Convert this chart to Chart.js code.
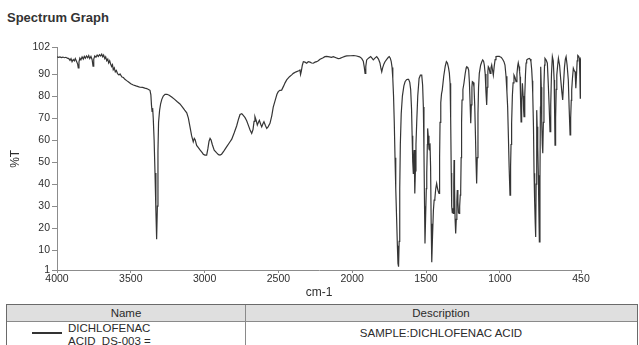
<!DOCTYPE html>
<html>
<head>
<meta charset="utf-8">
<script src="https://cdn.jsdelivr.net/npm/chart.js@4.4.1/dist/chart.umd.min.js"></script>
<style>
  html, body { margin: 0; padding: 0; background: #fff; width: 639px; height: 345px; overflow: hidden;
    font-family: "Liberation Sans", Arial, sans-serif; color: #2b2b2b; }
  #title { position: absolute; left: 7px; top: 10px; font-size: 13px; font-weight: bold; line-height: 16px; color: #333; }
  #wrap { position: absolute; left: 0; top: 0; width: 639px; height: 300px; }
  .abs { position: absolute; }
  .frame { left: 6px; top: 304px; width: 632px; height: 60px; border: 1px solid #6a6a6a; box-sizing: border-box; }
  .head { left: 7px; top: 305px; width: 630px; height: 16px; background: #dfdfdf; }
  .hline { left: 7px; top: 321px; width: 630px; height: 1px; background: #8a8a8a; }
  .vline { left: 245px; top: 305px; width: 1px; height: 45px; background: #8a8a8a; }
  .cell { font-size: 11.5px; text-align: center; white-space: nowrap; }
  .swatch { left: 32px; top: 332px; width: 30px; height: 2px; background: #333; }
</style>
</head>
<body>
<div id="title">Spectrum Graph</div>
<div id="wrap"><canvas id="c" width="639" height="300"></canvas></div>

<div class="abs frame"></div>
<div class="abs head"></div>
<div class="abs hline"></div>
<div class="abs vline"></div>
<div class="abs cell" style="left:7px;top:305px;width:238px;line-height:16px;">Name</div>
<div class="abs cell" style="left:246px;top:305px;width:390px;line-height:16px;">Description</div>
<div class="abs swatch"></div>
<div class="abs cell" style="left:68px;top:322px;text-align:left;line-height:13px;">DICHLOFENAC<br>ACID_DS-003 =</div>
<div class="abs cell" style="left:246px;top:326px;width:390px;line-height:14px;">SAMPLE:DICHLOFENAC ACID</div>

<script>
// Wavenumber axis (cm-1), high to low
const wavenumbers = [
  4000, 3990, 3980, 3970, 3960, 3950, 3940, 3930, 3920, 3912, 3905, 3898, 3890, 3882, 3876, 3868,
  3860, 3856, 3851, 3845, 3838, 3830, 3822, 3815, 3808, 3800, 3792, 3785, 3778, 3770, 3762, 3756,
  3751, 3744, 3736, 3728, 3720, 3712, 3704, 3697, 3690, 3684, 3676, 3670, 3663, 3656, 3650, 3643,
  3636, 3630, 3624, 3619, 3612, 3605, 3598, 3590, 3580, 3573, 3560, 3550, 3540, 3528, 3515, 3500,
  3483, 3465, 3450, 3438, 3420, 3405, 3392, 3380, 3370, 3364, 3360, 3356, 3352, 3348, 3342, 3336,
  3330, 3325, 3320, 3316, 3312, 3305, 3298, 3290, 3280, 3268, 3255, 3240, 3223, 3205, 3185, 3167,
  3150, 3135, 3121, 3110, 3099, 3088, 3077, 3070, 3064, 3054, 3045, 3030, 3015, 3009, 2998, 2986,
  2978, 2970, 2963, 2956, 2948, 2935, 2918, 2906, 2896, 2885, 2870, 2850, 2830, 2816, 2800, 2783,
  2770, 2760, 2748, 2738, 2726, 2715, 2704, 2692, 2681, 2672, 2665, 2659, 2650, 2643, 2636, 2629,
  2620, 2613, 2605, 2598, 2588, 2579, 2570, 2557, 2545, 2535, 2520, 2510, 2501, 2490, 2478, 2465,
  2455, 2444, 2425, 2410, 2399, 2380, 2362, 2354, 2350, 2345, 2338, 2331, 2320, 2308, 2298, 2286,
  2275, 2264, 2252, 2241, 2230, 2218, 2200, 2185, 2173, 2155, 2140, 2128, 2110, 2095, 2083, 2065,
  2050, 2037, 2010, 1990, 1970, 1950, 1936, 1925, 1918, 1913, 1908, 1902, 1890, 1875, 1866, 1857,
  1846, 1834, 1822, 1812, 1805, 1800, 1794, 1785, 1778, 1765, 1755, 1749, 1742, 1736, 1730, 1725,
  1720, 1715, 1710, 1705, 1699, 1694, 1690, 1686, 1682, 1678, 1674, 1668, 1660, 1650, 1642, 1632,
  1625, 1618, 1610, 1604, 1598, 1594, 1590, 1586, 1583, 1580, 1577, 1575, 1572, 1568, 1563, 1556,
  1547, 1538, 1529, 1523, 1518, 1514, 1510, 1507, 1503, 1498, 1495, 1491, 1489, 1485, 1480, 1477,
  1473, 1469, 1465, 1461, 1456, 1450, 1445, 1440, 1434, 1428, 1422, 1416, 1412, 1408, 1405, 1400,
  1395, 1390, 1380, 1370, 1362, 1355, 1348, 1342, 1337, 1333, 1329, 1326, 1322, 1318, 1315, 1312,
  1310, 1307, 1303, 1299, 1295, 1291, 1288, 1284, 1280, 1276, 1272, 1268, 1265, 1262, 1259, 1256,
  1250, 1243, 1235, 1228, 1224, 1217, 1211, 1206, 1201, 1197, 1193, 1189, 1186, 1180, 1175, 1170,
  1165, 1161, 1157, 1153, 1148, 1144, 1139, 1130, 1122, 1116, 1110, 1105, 1099, 1094, 1089, 1085,
  1081, 1078, 1072, 1066, 1060, 1055, 1050, 1044, 1038, 1032, 1026, 1015, 1005, 999, 990, 980,
  972, 965, 958, 952, 947, 942, 937, 931, 927, 924, 920, 915, 910, 904, 897, 890,
  884, 879, 875, 870, 866, 863, 860, 856, 852, 847, 842, 839, 836, 831, 826, 822,
  818, 810, 800, 795, 789, 784, 780, 777, 772, 768, 764, 760, 757, 754, 750, 747,
  743, 739, 735, 732, 728, 725, 723, 719, 716, 712, 709, 705, 701, 697, 694, 686,
  678, 672, 666, 660, 655, 650, 644, 638, 632, 629, 626, 622, 618, 614, 608, 603,
  595, 587, 580, 574, 568, 562, 556, 551, 544, 536, 530, 524, 520, 516, 513, 508,
  502, 496, 490, 486, 484, 480, 476, 472, 466, 461, 458, 455, 452, 450
];

// Transmittance (%T) at each wavenumber above
const transmittance = [
  97.8, 97.6, 97.8, 97.5, 97.7, 97.4, 97.6, 97.2, 97.0, 96.2, 97.0, 95.6, 96.6, 96.0, 97.0, 95.8,
  94.5, 92.8, 95.5, 97.2, 96.4, 97.8, 96.8, 98.0, 97.2, 98.2, 97.4, 98.4, 97.0, 98.0, 96.5, 93.6,
  96.8, 98.2, 97.6, 98.6, 98.0, 98.8, 98.2, 99.0, 97.8, 98.6, 97.0, 97.8, 96.0, 96.8, 95.0, 96.0,
  94.4, 93.4, 94.2, 92.0, 92.8, 91.0, 91.6, 90.2, 89.6, 90.0, 88.6, 88.4, 87.6, 87.0, 86.4, 85.6,
  85.0, 84.6, 84.3, 84.0, 83.9, 83.6, 83.4, 83.0, 82.6, 80.5, 76.0, 73.0, 74.5, 70.0, 60.0, 45.0,
  28.0, 15.0, 30.0, 55.0, 68.0, 73.5, 76.5, 78.5, 80.0, 80.8, 80.8, 80.4, 79.6, 78.6, 77.4, 76.4,
  75.0, 73.6, 72.4, 70.0, 66.0, 62.0, 59.2, 60.8, 60.2, 57.6, 56.8, 55.4, 54.2, 53.6, 53.2, 53.2,
  56.0, 59.5, 60.8, 60.0, 58.0, 55.4, 54.2, 53.4, 53.2, 53.6, 55.0, 57.0, 59.0, 60.4, 63.2, 66.4,
  69.6, 71.6, 72.0, 71.2, 70.2, 68.8, 66.8, 64.6, 63.0, 64.8, 68.5, 70.6, 68.8, 66.8, 68.0, 69.0,
  67.2, 66.0, 67.4, 68.3, 66.6, 65.3, 66.0, 67.6, 71.0, 75.0, 78.5, 80.8, 82.0, 82.6, 82.7, 84.5,
  86.0, 87.3, 88.8, 89.6, 90.3, 91.0, 91.5, 91.8, 89.8, 91.2, 94.0, 95.6, 95.4, 94.9, 95.6, 95.4,
  95.0, 94.9, 95.4, 95.6, 96.0, 96.7, 97.3, 97.9, 98.0, 97.8, 97.6, 97.9, 97.4, 97.0, 97.1, 97.6,
  98.0, 98.2, 98.3, 98.4, 98.2, 97.8, 97.1, 95.8, 93.0, 90.3, 93.5, 96.4, 97.2, 97.9, 97.2, 96.4,
  97.2, 97.9, 96.8, 95.0, 92.4, 91.0, 92.8, 94.6, 95.6, 96.8, 97.6, 97.9, 97.2, 95.8, 93.0, 88.0,
  80.0, 68.0, 52.0, 38.0, 24.0, 12.0, 4.0, 2.5, 14.0, 38.0, 58.0, 72.0, 80.0, 84.6, 86.5, 87.4,
  87.6, 87.6, 86.2, 83.0, 74.0, 62.0, 50.0, 44.9, 52.0, 55.5, 46.0, 35.8, 46.0, 58.0, 68.0, 80.0,
  88.0, 89.5, 89.5, 85.0, 75.0, 55.0, 30.0, 13.0, 24.0, 38.0, 44.9, 58.0, 65.3, 62.0, 56.0, 55.5,
  58.5, 48.0, 22.0, 4.5, 16.0, 28.0, 32.7, 33.5, 38.0, 40.3, 38.0, 36.5, 35.8, 52.0, 68.0, 77.0,
  81.0, 82.7, 89.0, 93.5, 95.6, 95.0, 93.0, 90.5, 85.8, 70.0, 45.0, 30.0, 27.0, 29.0, 26.7, 40.0,
  50.9, 40.0, 24.0, 17.6, 24.0, 32.0, 37.3, 32.0, 27.0, 26.7, 30.0, 35.0, 37.3, 52.0, 68.0, 78.2,
  83.0, 85.8, 90.0, 92.8, 93.3, 93.0, 91.8, 86.0, 76.0, 67.6, 76.0, 84.0, 86.5, 86.2, 84.2, 76.0,
  62.0, 50.0, 40.3, 52.0, 72.0, 84.0, 90.3, 94.0, 95.6, 96.4, 95.8, 94.1, 90.0, 82.0, 75.9, 84.0,
  91.0, 93.3, 92.6, 90.3, 92.8, 94.1, 92.0, 89.5, 93.5, 96.5, 97.9, 98.0, 98.0, 97.9, 97.5, 96.6,
  95.6, 94.1, 89.0, 82.0, 75.1, 62.0, 48.0, 35.0, 48.0, 58.0, 67.6, 80.0, 86.0, 89.5, 88.4, 86.5,
  90.0, 93.6, 95.1, 93.4, 91.0, 88.8, 80.0, 68.3, 78.0, 85.8, 80.0, 74.0, 70.6, 80.0, 90.0, 95.0,
  96.4, 96.8, 97.1, 96.8, 95.6, 92.0, 87.0, 81.2, 66.0, 44.9, 32.0, 22.0, 16.0, 40.0, 73.6, 66.0,
  57.0, 44.0, 26.0, 13.8, 42.0, 75.0, 93.3, 84.0, 68.0, 58.0, 54.0, 68.0, 85.0, 94.0, 97.1, 96.4,
  94.9, 86.0, 76.0, 63.8, 76.0, 90.0, 97.9, 96.0, 87.3, 74.0, 57.7, 70.0, 83.0, 89.5, 94.0, 97.1,
  94.0, 87.3, 82.0, 78.2, 86.0, 93.0, 96.8, 97.9, 94.0, 87.3, 74.0, 62.3, 70.0, 78.0, 82.7, 88.0,
  92.6, 91.5, 91.0, 87.0, 83.5, 90.0, 96.0, 98.4, 98.0, 97.1, 90.0, 79.0, 90.0, 97.6
];

const xTickValues = [4000, 3500, 3000, 2500, 2000, 1500, 1000, 450];
const yTickValues = [1, 10, 20, 30, 40, 50, 60, 70, 80, 90, 102];

const points = wavenumbers.map((w, i) => ({ x: w, y: transmittance[i] }));

const FONT = '"Liberation Sans", Arial, sans-serif';
const AXIS_GREY = '#8c8c8c';

new Chart(document.getElementById('c'), {
  type: 'line',
  data: {
    datasets: [{
      label: 'DICHLOFENAC ACID_DS-003',
      data: points,
      borderColor: '#353535',
      borderWidth: 1.2,
      pointRadius: 0,
      tension: 0,
      fill: false
    }]
  },
  options: {
    responsive: false,
    animation: false,
    events: [],
    layout: { padding: { top: 47.6, right: 58, bottom: 0, left: 0 } },
    plugins: { legend: { display: false }, tooltip: { enabled: false } },
    scales: {
      x: {
        type: 'linear',
        reverse: true,
        min: 450,
        max: 4000,
        afterBuildTicks: s => { s.ticks = xTickValues.map(v => ({ value: v })); },
        afterFit: s => { s.height = 30; },
        ticks: {
          autoSkip: false,
          maxRotation: 0,
          padding: 0,
          color: '#2e2e2e',
          font: { family: FONT, size: 10.5 },
          callback: v => String(v)
        },
        grid: { drawOnChartArea: false, drawTicks: true, tickLength: 3, color: AXIS_GREY },
        border: { display: true, color: AXIS_GREY, width: 1 },
        title: {
          display: true,
          text: 'cm-1',
          color: '#2e2e2e',
          font: { family: FONT, size: 12 },
          padding: { top: 0, bottom: 0 }
        }
      },
      y: {
        type: 'linear',
        min: 1,
        max: 102,
        afterBuildTicks: s => { s.ticks = yTickValues.map(v => ({ value: v })); },
        afterFit: s => { s.width = 57; },
        ticks: {
          autoSkip: false,
          padding: 2,
          color: '#2e2e2e',
          font: { family: FONT, size: 10.5 },
          callback: v => String(v)
        },
        grid: { drawOnChartArea: false, drawTicks: true, tickLength: 5, color: AXIS_GREY },
        border: { display: true, color: AXIS_GREY, width: 1 },
        title: {
          display: true,
          text: '%T',
          color: '#2e2e2e',
          font: { family: FONT, size: 12 },
          padding: { top: 8, bottom: 0 }
        }
      }
    }
  }
});
</script>
</body>
</html>
